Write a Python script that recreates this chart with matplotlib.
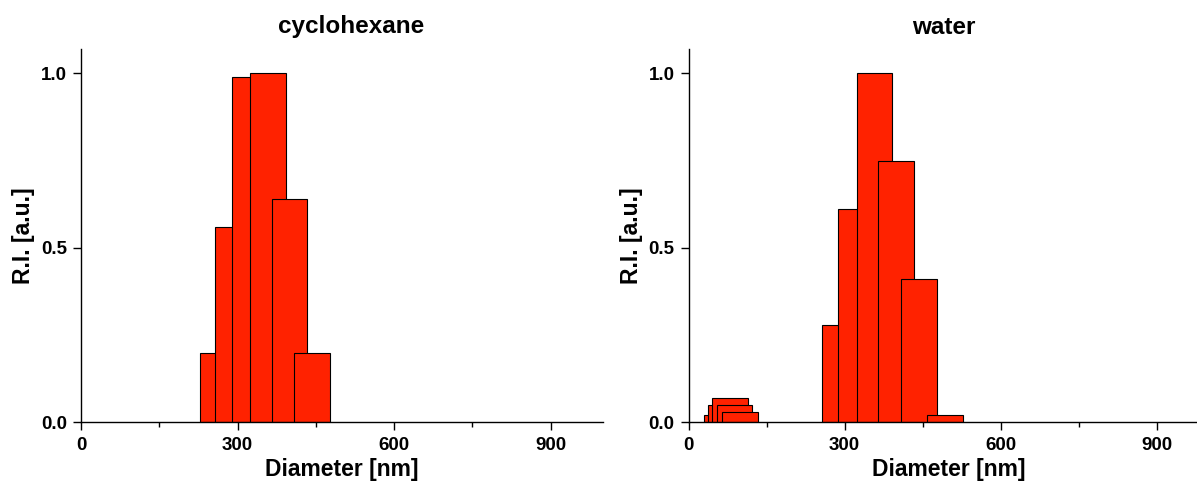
import matplotlib
matplotlib.use("Agg")
import matplotlib.pyplot as plt
from matplotlib.ticker import MultipleLocator

plt.rcParams['font.family'] = ['Liberation Sans', 'DejaVu Sans']
plt.rcParams['font.weight'] = 'bold'

# Size distributions (bin centre in nm, normalised intensity)
cyclo_diam = [262, 291, 323, 358, 399, 443]
cyclo_ri = [0.20, 0.56, 0.99, 1.00, 0.64, 0.20]

water_diam = [64, 72, 80, 88, 99, 290, 322, 358, 399, 443, 493]
water_ri = [0.02, 0.05, 0.07, 0.05, 0.03, 0.28, 0.61, 1.00, 0.75, 0.41, 0.02]

titles = ["cyclohexane", "water"]
x_ticks = [0, 300, 600, 900]
y_ticks = [0.0, 0.5, 1.0]

BAR_WIDTH = 68
BAR_COLOR = "#FF2200"
YTOP = 1.07

W, H = 1197, 486
fig = plt.figure(figsize=(W / 100, H / 100), dpi=100)

ax_left = fig.add_axes([81 / W, (H - 422.3) / H, 522 / W, 373.4 / H])
ax_right = fig.add_axes([688.5 / W, (H - 422.3) / H, 520 / W, 373.4 / H])
title_x = [351.5 / W, 944 / W]

for ax, title, tx, xs, ys in [(ax_left, titles[0], title_x[0], cyclo_diam, cyclo_ri),
                              (ax_right, titles[1], title_x[1], water_diam, water_ri)]:
    for i, (x, y) in enumerate(zip(xs, ys)):
        ax.bar(x, y, width=BAR_WIDTH, color=BAR_COLOR, edgecolor="black",
               linewidth=0.8, zorder=2 + i)
    ax.set_xlim(0, 1000)
    ax.set_ylim(0, YTOP)
    ax.set_xticks(x_ticks)
    ax.set_xticklabels([str(t) for t in x_ticks])
    ax.xaxis.set_minor_locator(MultipleLocator(150))
    ax.set_yticks(y_ticks)
    ax.set_yticklabels(["%.1f" % t for t in y_ticks])
    for side in ("top", "right"):
        ax.spines[side].set_visible(False)
    for side in ("left", "bottom"):
        ax.spines[side].set_linewidth(1.0)
        ax.spines[side].set_zorder(20)
    ax.tick_params(axis="both", which="major", direction="out", length=5.5,
                   width=1.0, labelsize=13.5, pad=4.6)
    ax.tick_params(axis="x", which="major", pad=5.0)
    ax.tick_params(axis="x", which="minor", direction="out", length=3.5, width=1.0)
    ax.set_xlabel("Diameter [nm]", fontsize=16.5, fontweight="bold")
    ax.xaxis.set_label_coords(0.5, -0.095)
    ax.set_ylabel("R.I. [a.u.]", fontsize=16.5, fontweight="bold")
    ax.yaxis.set_label_coords(-0.088, 0.5)
    fig.text(tx, 1 - 27 / H, title, fontsize=17.5, fontweight="bold",
             ha="center", va="center")

fig.savefig("out.png", dpi=100)
